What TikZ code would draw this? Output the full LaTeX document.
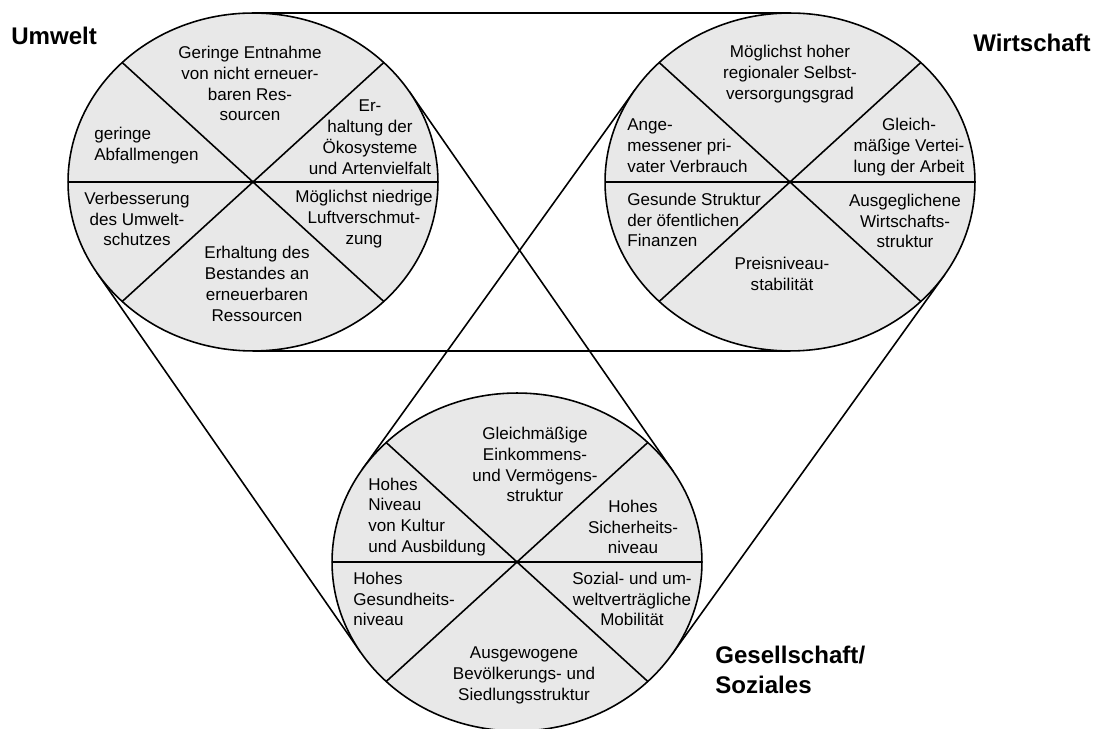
\documentclass[tikz,border=0pt]{standalone}
\usepackage{fontspec}
\setmainfont{Liberation Sans}
\definecolor{segfill}{HTML}{E8E8E8}
\begin{document}
\begin{tikzpicture}[x=0.02cm,y=-0.02cm,
  disc/.style={draw=black, fill=segfill, line width=0.9pt},
  divider/.style={draw=black, line width=0.9pt},
  link/.style={draw=black, line width=0.9pt},
  goal/.style={font=\fontsize{9.7}{11.9}\selectfont, align=center, inner sep=0pt, text=black},
  goalL/.style={goal, align=left, anchor=west},
  title/.style={font=\fontsize{13.7}{17}\selectfont\bfseries, inner sep=0pt, align=left}]
\useasboundingbox (0,0) rectangle (1096,729);

% centres of the three discs
\coordinate (L) at (253,182);
\coordinate (R) at (790,182);
\coordinate (B) at (517,562);

% tangent points of the connecting belts
\coordinate (LT) at (253,13);
\coordinate (RT) at (790,13);
\coordinate (LBt) at (253,351);
\coordinate (RBt) at (790,351);
\coordinate (LBa) at (409.2,91.4);
\coordinate (BLa) at (673.2,471.4);
\coordinate (LBb) at (96.8,272.6);
\coordinate (BLb) at (360.8,652.6);
\coordinate (RBa) at (944.7,274.7);
\coordinate (BRa) at (671.7,654.7);
\coordinate (RBb) at (635.3,89.3);
\coordinate (BRb) at (362.3,469.3);

% connecting lines
\draw[link] (LT) -- (RT);
\draw[link] (LBt) -- (RBt);
\draw[link] (LBa) -- (BLa);
\draw[link] (LBb) -- (BLb);
\draw[link] (RBa) -- (BRa);
\draw[link] (RBb) -- (BRb);

% discs with six segments
\foreach \c in {L,R,B}{
  \draw[disc] (\c) ellipse [x radius=3.7cm, y radius=3.38cm];
  \foreach \a in {0,45,135,180,225,315}{
    \path (\c) +(\a:3.7cm and 3.38cm) coordinate (\c\a);
  }
  \draw[divider] (\c0) -- (\c180) (\c45) -- (\c225) (\c135) -- (\c315);
}

% Umwelt
\node[goal] (l1) at (250,83.5) {Geringe Entnahme\\von nicht erneuer-\\baren Res-\\sourcen};
\node[goalL] (l2) at (94,145.5) {geringe\\Abfallmengen};
\node[goal] (l3) at (370,137) {Er-\\haltung der\\Ökosysteme\\und Artenvielfalt};
\node[goal] (l4) at (137,219) {Verbesserung\\des Umwelt-\\schutzes};
\node[goal] (l5) at (364,219) {Möglichst niedrige\\Luftverschmut-\\zung};
\node[goal] (l6) at (257,284) {Erhaltung des\\Bestandes an\\erneuerbaren\\Ressourcen};

% Wirtschaft
\node[goal] (r1) at (790,74) {Möglichst hoher\\regionaler Selbst-\\versorgungsgrad};
\node[goalL] (r2) at (627,146) {Ange-\\messener pri-\\vater Verbrauch};
\node[goal] (r3) at (909,147) {Gleich-\\mäßige Vertei-\\lung der Arbeit};
\node[goalL] (r4) at (627,220) {Gesunde Struktur\\der öfentlichen\\Finanzen};
\node[goal] (r5) at (905,221) {Ausgeglichene\\Wirtschafts-\\struktur};
\node[goal] (r6) at (782,274) {Preisniveau-\\stabilität};

% Gesellschaft / Soziales
\node[goal] (b1) at (535,464.5) {Gleichmäßige\\Einkommens-\\und Vermögens-\\struktur};
\node[goalL] (b2) at (368,517) {Hohes\\Niveau\\von Kultur\\und Ausbildung};
\node[goal] (b3) at (633,527) {Hohes\\Sicherheits-\\niveau};
\node[goalL] (b4) at (353,599) {Hohes\\Gesundheits-\\niveau};
\node[goal] (b5) at (632,599) {Sozial- und um-\\weltverträgliche\\Mobilität};
\node[goal] (b6) at (524,675) {Ausgewogene\\Bevölkerungs- und\\Siedlungsstruktur};

% titles
\node[title, anchor=west] (tU) at (11,36) {Umwelt};
\node[title] (tW) at (1032,43) {Wirtschaft};
\node[title, anchor=west] (tG) at (715,670) {Gesellschaft/\\Soziales};
\end{tikzpicture}
\end{document}
